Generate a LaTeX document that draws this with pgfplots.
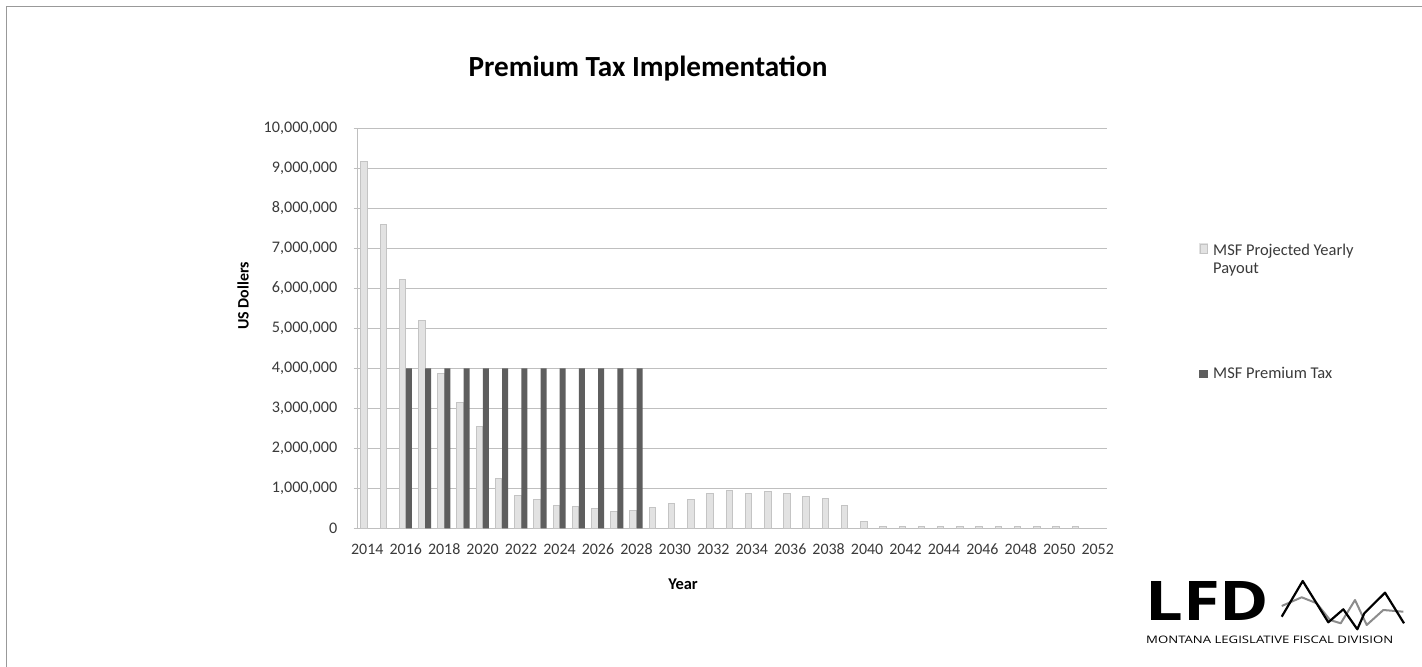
\documentclass[border=0pt]{standalone}
\usepackage{fontspec}
\setmainfont{Carlito}
\newfontfamily\logofont{Open Sans}
\usepackage{graphicx}
\usepackage{pgfplots}
\pgfplotsset{compat=1.18}
\usepackage{pgfplotstable}
\definecolor{lightbar}{HTML}{E2E2E2}
\definecolor{lightedge}{HTML}{C4C4C4}
\definecolor{darkbar}{HTML}{5E5E5E}
\definecolor{gridc}{HTML}{BFBFBF}
\definecolor{txt}{HTML}{3A3A3A}

\pgfplotstableread{
year payout
2014 9170000
2015 7600000
2016 6220000
2017 5200000
2018 3870000
2019 3140000
2020 2540000
2021 1250000
2022 830000
2023 720000
2024 580000
2025 540000
2026 500000
2027 430000
2028 450000
2029 530000
2030 630000
2031 710000
2032 870000
2033 940000
2034 870000
2035 920000
2036 870000
2037 790000
2038 750000
2039 580000
2040 160000
2041 50000
2042 45000
2043 45000
2044 45000
2045 45000
2046 45000
2047 45000
2048 45000
2049 45000
2050 45000
2051 45000
}\payout

\pgfplotstableread{
year tax
2016 4000000
2017 4000000
2018 4000000
2019 4000000
2020 4000000
2021 4000000
2022 4000000
2023 4000000
2024 4000000
2025 4000000
2026 4000000
2027 4000000
2028 4000000
}\premiumtax

\begin{document}
\begin{tikzpicture}
\begin{scope}[x=1bp,y=1bp]
\useasboundingbox (0,0) rectangle (1422,667);
\fill[white] (0,0) rectangle (1422,667);
\draw[color=black!40, line width=1.3bp] (6.5,0) -- (6.5,660.5) -- (1422,660.5);
\end{scope}
\begin{axis}[
  at={(357.7bp,138.7bp)}, anchor=south west,
  scale only axis, width=749.6bp, height=400bp,
  xmin=2013.5, xmax=2052.5, ymin=0, ymax=10000000,
  xtick={2014,2016,...,2052},
  ytick={0,1000000,2000000,3000000,4000000,5000000,6000000,7000000,8000000,9000000,10000000},
  scaled y ticks=false,
  /pgf/number format/assume math mode=true,
  xticklabel style={/pgf/number format/1000 sep={}, font=\fontsize{16}{19}\selectfont, text=txt, yshift=-8bp},
  yticklabel style={/pgf/number format/fixed, /pgf/number format/1000 sep={,}, font=\fontsize{16.2}{19}\selectfont, text=txt, xshift=-13bp},
  axis x line*=bottom, axis y line*=left,
  axis line style={gridc, line width=1bp},
  ymajorgrids, grid style={gridc, line width=1bp},
  tick align=outside, major tick length=4bp,
  xtick style={draw=none},
  ytick style={gridc, line width=1bp},
  clip=false,
]
\addplot[ybar, bar width=6.5bp, bar shift=-3.2bp, fill=lightbar, draw=lightedge, line width=1bp] table[x=year,y=payout]{\payout};
\addplot[ybar, bar width=6bp, bar shift=3.2bp, fill=darkbar, draw=none] table[x=year,y=tax]{\premiumtax};
\end{axis}
\begin{scope}[x=1bp,y=1bp]
% title
\node[anchor=base, font=\fontsize{29.3}{33}\selectfont\bfseries] at (648,590) {Premium Tax Implementation};
% axis labels
\node[rotate=90, font=\fontsize{16}{19}\selectfont\bfseries, text=black] at (243,371) {US Dollers};
\node[anchor=base, font=\fontsize{16.5}{19}\selectfont\bfseries, text=black] at (683,77) {Year};
% legend
\fill[lightbar] (1199.3,413) rectangle (1208.3,423.7);
\draw[lightedge, line width=0.8bp] (1200,413.7) rectangle (1207.6,423);
\node[anchor=base west, inner sep=0, font=\fontsize{16.5}{18}\selectfont, text=txt] at (1213,411) {MSF Projected Yearly};
\node[anchor=base west, inner sep=0, font=\fontsize{16.5}{18}\selectfont, text=txt] at (1213,393.5) {Payout};
\fill[darkbar] (1199.3,288.7) rectangle (1208.3,297);
\node[anchor=base west, inner sep=0, font=\fontsize{16.5}{19}\selectfont, text=txt] at (1213,288) {MSF Premium Tax};
% logo
\node[anchor=south west, inner sep=0] at (1145,46.3) {\resizebox{124bp}{39bp}{\logofont\bfseries LFD}};
\node[anchor=south west, inner sep=0] at (1146,23) {\resizebox{247bp}{7.5bp}{\logofont MONTANA LEGISLATIVE FISCAL DIVISION}};
\draw[black!45, line width=2bp, line join=round] (1281.7,61) -- (1301.7,69.7) -- (1316.7,63.7) -- (1330,47) -- (1340.7,43.7) -- (1355,67) -- (1366.7,42) -- (1383.3,57) -- (1403.3,55.3);
\draw[black, line width=2.2bp, line join=round] (1281.7,50.3) -- (1302.7,86) -- (1328.3,44.7) -- (1343.3,57.7) -- (1357.3,37.7) -- (1364.3,53.7) -- (1385,74.3) -- (1404,43.7);
\end{scope}
\end{tikzpicture}
\end{document}
